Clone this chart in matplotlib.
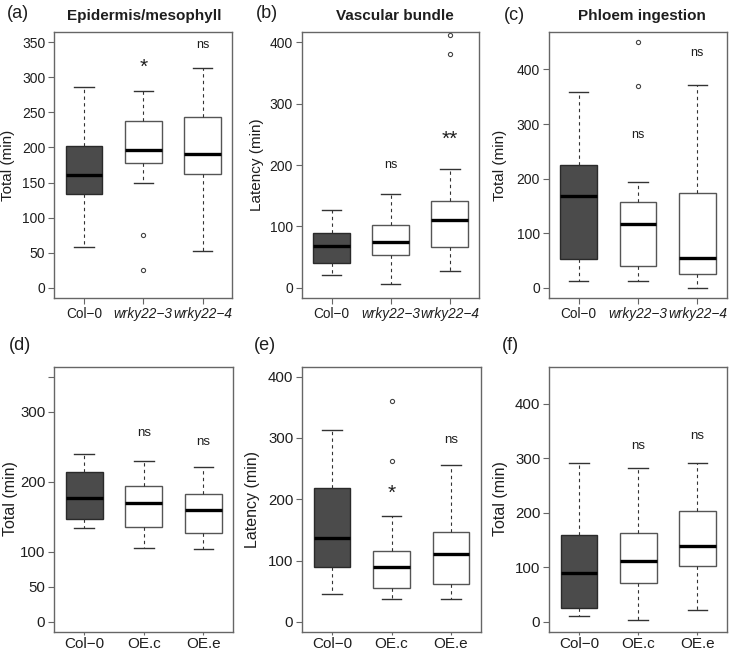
import matplotlib.pyplot as plt

plt.rcParams['font.family'] = ['Liberation Sans', 'DejaVu Sans']

# group names (R style minus sign)
groups_top = ['Col\u22120', 'wrky22\u22123', 'wrky22\u22124']
groups_bottom = ['Col\u22120', 'OE.c', 'OE.e']

# (a) Epidermis/mesophyll - total (min)
a_lo = [58, 150, 52]
a_q1 = [133, 178, 162]
a_med = [161, 197, 191]
a_q3 = [202, 238, 244]
a_hi = [286, 281, 313]
a_fliers = [[], [75, 25], []]
a_signif = ['', '*', 'ns']
a_signif_y = [0, 318, 346]

# (b) Vascular bundle - latency (min)
b_lo = [21, 6, 28]
b_q1 = [40, 54, 66]
b_med = [68, 74, 111]
b_q3 = [90, 102, 141]
b_hi = [126, 153, 193]
b_fliers = [[], [], [380, 411]]
b_signif = ['', 'ns', '**']
b_signif_y = [0, 200, 247]

# (c) Phloem ingestion - total (min)
c_lo = [12, 12, 0.5]
c_q1 = [53, 40, 26]
c_med = [169, 117, 55]
c_q3 = [225, 157, 173]
c_hi = [359, 193, 371]
c_fliers = [[], [369, 450], []]
c_signif = ['', 'ns', 'ns']
c_signif_y = [0, 280, 430]

# (d) total (min), overexpression lines
d_lo = [134, 106, 104]
d_q1 = [147, 135, 127]
d_med = [176, 170, 159]
d_q3 = [214, 194, 182]
d_hi = [240, 229, 221]
d_fliers = [[], [], []]
d_signif = ['', 'ns', 'ns']
d_signif_y = [0, 270, 256]

# (e) latency (min)
e_lo = [45, 37, 38]
e_q1 = [89, 56, 62]
e_med = [136, 89, 110]
e_q3 = [218, 116, 147]
e_hi = [312, 172, 256]
e_fliers = [[], [263, 360], []]
e_signif = ['', '*', 'ns']
e_signif_y = [0, 214, 296]

# (f) total (min)
f_lo = [10, 4, 22]
f_q1 = [26, 72, 103]
f_med = [89, 112, 139]
f_q3 = [159, 163, 203]
f_hi = [291, 283, 292]
f_fliers = [[], [], []]
f_signif = ['', 'ns', 'ns']
f_signif_y = [0, 323, 340]

W, H = 730, 651
fig = plt.figure(figsize=(W / 100, H / 100), dpi=100)

frame_col = '#666666'
text_col = '#1e1e1e'


def rect(l, r, t, b):
    # pixel box -> figure fraction
    return [l / W, 1 - b / H, (r - l) / W, (b - t) / H]


def make_stats(lo, q1, med, q3, hi, fliers):
    stats = []
    for i in range(len(med)):
        stats.append(dict(whislo=lo[i], q1=q1[i], med=med[i], q3=q3[i],
                          whishi=hi[i], fliers=fliers[i]))
    return stats


def draw_panel(box, stats, labels, top, yticks, ytl, signif, signif_y,
               xfs, yfs, nsfs, tlen=4.5, xpad=2):
    ax = fig.add_axes(rect(*box))
    res = ax.bxp(stats, positions=[1, 2, 3], widths=0.62, capwidths=0.33,
                 patch_artist=True,
                 boxprops=dict(linewidth=1.0, edgecolor='#555555'),
                 medianprops=dict(color='black', linewidth=2.4),
                 whiskerprops=dict(color='#333333', linewidth=0.8, linestyle=(0, (3, 3))),
                 capprops=dict(color='#333333', linewidth=1.0),
                 flierprops=dict(marker='o', markersize=3, markerfacecolor='none',
                                 markeredgecolor='#444444', markeredgewidth=0.8))
    for j, b in enumerate(res['boxes']):
        if j == 0:
            b.set_facecolor('#4b4b4b')
            b.set_edgecolor('#2a2a2a')
        else:
            b.set_facecolor('white')
    ax.set_xlim(0.5, 3.5)
    ax.set_ylim(-0.04 * top, 1.04 * top)
    ax.set_yticks(yticks)
    ax.set_yticklabels(ytl, fontsize=yfs, color=text_col)
    ax.set_xticks([1, 2, 3])
    ax.set_xticklabels(labels, fontsize=xfs, color=text_col)
    for lab in ax.get_xticklabels():
        if lab.get_text().startswith('wrky'):
            lab.set_style('italic')
    for s in ax.spines.values():
        s.set_color(frame_col)
        s.set_linewidth(1.0)
    ax.tick_params(direction='out', length=4.5, width=0.8, color=frame_col, pad=2)
    ax.tick_params(axis='x', length=tlen, pad=xpad)
    for j in range(3):
        if signif[j]:
            fs = nsfs if signif[j] == 'ns' else 15
            dy = 0 if signif[j] == 'ns' else -0.013 * top
            ax.text(j + 1, signif_y[j] + dy, signif[j], ha='center', va='center',
                    fontsize=fs, color=text_col)
    return ax


def ticks(vals, hide=()):
    return vals, ['' if v in hide else str(v) for v in vals]


# top row
yt, yl = ticks(list(range(0, 351, 50)))
draw_panel((54.3, 232.3, 32.3, 297.7), make_stats(a_lo, a_q1, a_med, a_q3, a_hi, a_fliers),
           groups_top, 350, yt, yl, a_signif, a_signif_y, 9.8, 10, 9)
yt, yl = ticks([0, 100, 200, 300, 400])
draw_panel((302, 479.3, 32.3, 297.7), make_stats(b_lo, b_q1, b_med, b_q3, b_hi, b_fliers),
           groups_top, 400, yt, yl, b_signif, b_signif_y, 9.8, 10, 9)
draw_panel((549, 727, 32.3, 297.7), make_stats(c_lo, c_q1, c_med, c_q3, c_hi, c_fliers),
           groups_top, 450, yt, yl, c_signif, c_signif_y, 9.8, 10, 9)

# bottom row
yt, yl = ticks([0, 50, 100, 200, 300, 350], hide=(350,))
draw_panel((54.3, 233.3, 366.7, 631.7), make_stats(d_lo, d_q1, d_med, d_q3, d_hi, d_fliers),
           groups_bottom, 350, yt, yl, d_signif, d_signif_y, 11, 10.8, 9.5, 2.5, 1)
yt, yl = ticks([0, 100, 200, 300, 400])
draw_panel((302.3, 480.7, 366.7, 631.7), make_stats(e_lo, e_q1, e_med, e_q3, e_hi, e_fliers),
           groups_bottom, 400, yt, yl, e_signif, e_signif_y, 11, 10.8, 9.5, 2.5, 1)
draw_panel((549.3, 727, 366.7, 631.7), make_stats(f_lo, f_q1, f_med, f_q3, f_hi, f_fliers),
           groups_bottom, 450, yt, yl, f_signif, f_signif_y, 11, 10.8, 9.5, 2.5, 1)

# titles, panel letters, y labels
titles = ['Epidermis/mesophyll', 'Vascular bundle', 'Phloem ingestion']
title_x = [144.5, 394.7, 642]
for t, x in zip(titles, title_x):
    fig.text(x / W, 1 - 16 / H, t, ha='center', va='center', fontsize=11,
             fontweight='bold', color=text_col)

letters = ['(a)', '(b)', '(c)', '(d)', '(e)', '(f)']
letter_xy = [(7, 14), (256, 13), (504, 15), (9, 345), (254, 345), (502, 345)]
for s, (x, y) in zip(letters, letter_xy):
    fig.text(x / W, 1 - y / H, s, ha='left', va='center', fontsize=13, color=text_col)

ylabels = ['Total (min)', 'Latency (min)', 'Total (min)',
           'Total (min)', 'Latency (min)', 'Total (min)']
ylabel_xy = [(8, 165), (257, 165), (500, 165), (11, 499), (252, 499), (500, 499)]
for i, (s, (x, y)) in enumerate(zip(ylabels, ylabel_xy)):
    fig.text(x / W, 1 - y / H, s, ha='center', va='center', rotation=90,
             fontsize=11 if i < 3 else 11.5, color=text_col)

fig.savefig('out.png', dpi=100)
